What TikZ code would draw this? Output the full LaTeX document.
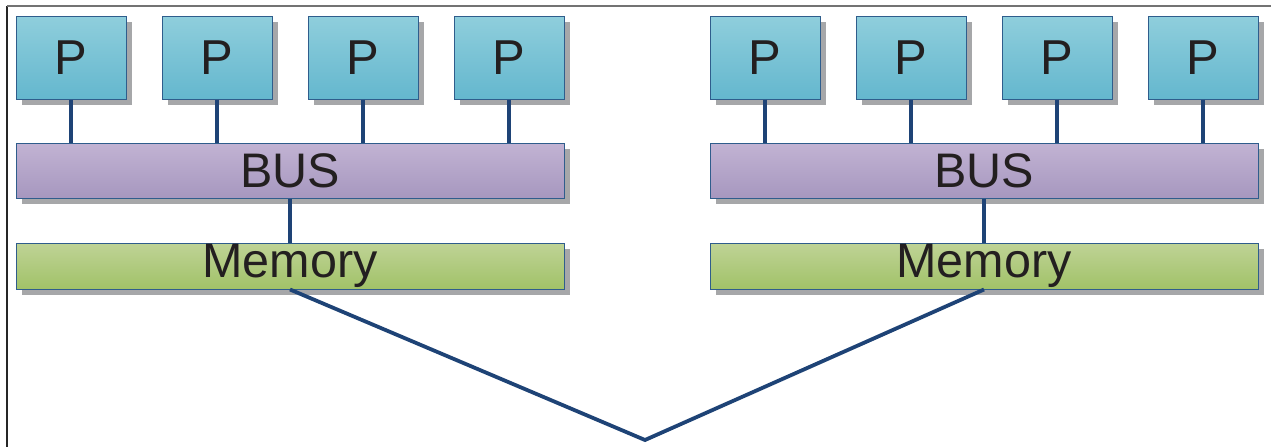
\documentclass[tikz,border=0pt]{standalone}
\usepackage{fontspec}
\setmainfont{Liberation Sans}
\usetikzlibrary{shadows}
\definecolor{pTop}{HTML}{8FCEDC}
\definecolor{pBot}{HTML}{64B7CE}
\definecolor{busTop}{HTML}{C2B3D3}
\definecolor{busBot}{HTML}{A697BF}
\definecolor{memTop}{HTML}{BFD396}
\definecolor{memBot}{HTML}{A1C268}
\definecolor{edge}{HTML}{2F5D8C}
\definecolor{wire}{HTML}{1E4376}
\definecolor{txt}{HTML}{231F20}
\definecolor{shade}{HTML}{A6A7A9}
\tikzset{
  box/.style={draw=edge, line width=1pt, inner sep=0pt, text=txt,
    drop shadow={shadow xshift=6pt, shadow yshift=-6pt, fill=shade, opacity=1}},
  pbox/.style={box, minimum width=110pt, minimum height=83pt,
    top color=pTop, bottom color=pBot, font=\fontsize{49}{52}\selectfont},
  busbox/.style={box, minimum width=548pt, minimum height=55pt,
    top color=busTop, bottom color=busBot, font=\fontsize{48.5}{52}\selectfont},
  membox/.style={box, minimum width=548pt, minimum height=46pt,
    top color=memTop, bottom color=memBot, font=\fontsize{48.5}{52}\selectfont},
  wireline/.style={draw=wire, line width=3.8pt},
}
\begin{document}
\begin{tikzpicture}[x=1pt, y=-1pt]
\useasboundingbox (0,0) rectangle (1271,447);
% frame edges
\draw[line width=2pt, black!85] (7,6) -- (7,447);
\draw[line width=2pt, black!55] (7,6) -- (1271,6);
% two symmetric multiprocessor groups
\foreach \g/\ox in {L/0, R/694} {
  \foreach \i in {0,...,3} {
    \node[pbox] (p\g\i) at ({\ox+71+146*\i}, 57.5) {P};
  }
  \node[busbox] (bus\g) at ({\ox+290}, 170.5) {BUS};
  \node[membox] (mem\g) at ({\ox+290}, 266) {Memory};
  \foreach \i in {0,...,3} {
    \draw[wireline] (p\g\i.south) -- (p\g\i.south |- bus\g.north);
  }
  \draw[wireline] (bus\g.south) -- (mem\g.north);
}
% interconnect between the two memories
\coordinate (join) at (645,440);
\draw[wireline, line join=miter] (memL.south) -- (join) -- (memR.south);
\end{tikzpicture}
\end{document}
